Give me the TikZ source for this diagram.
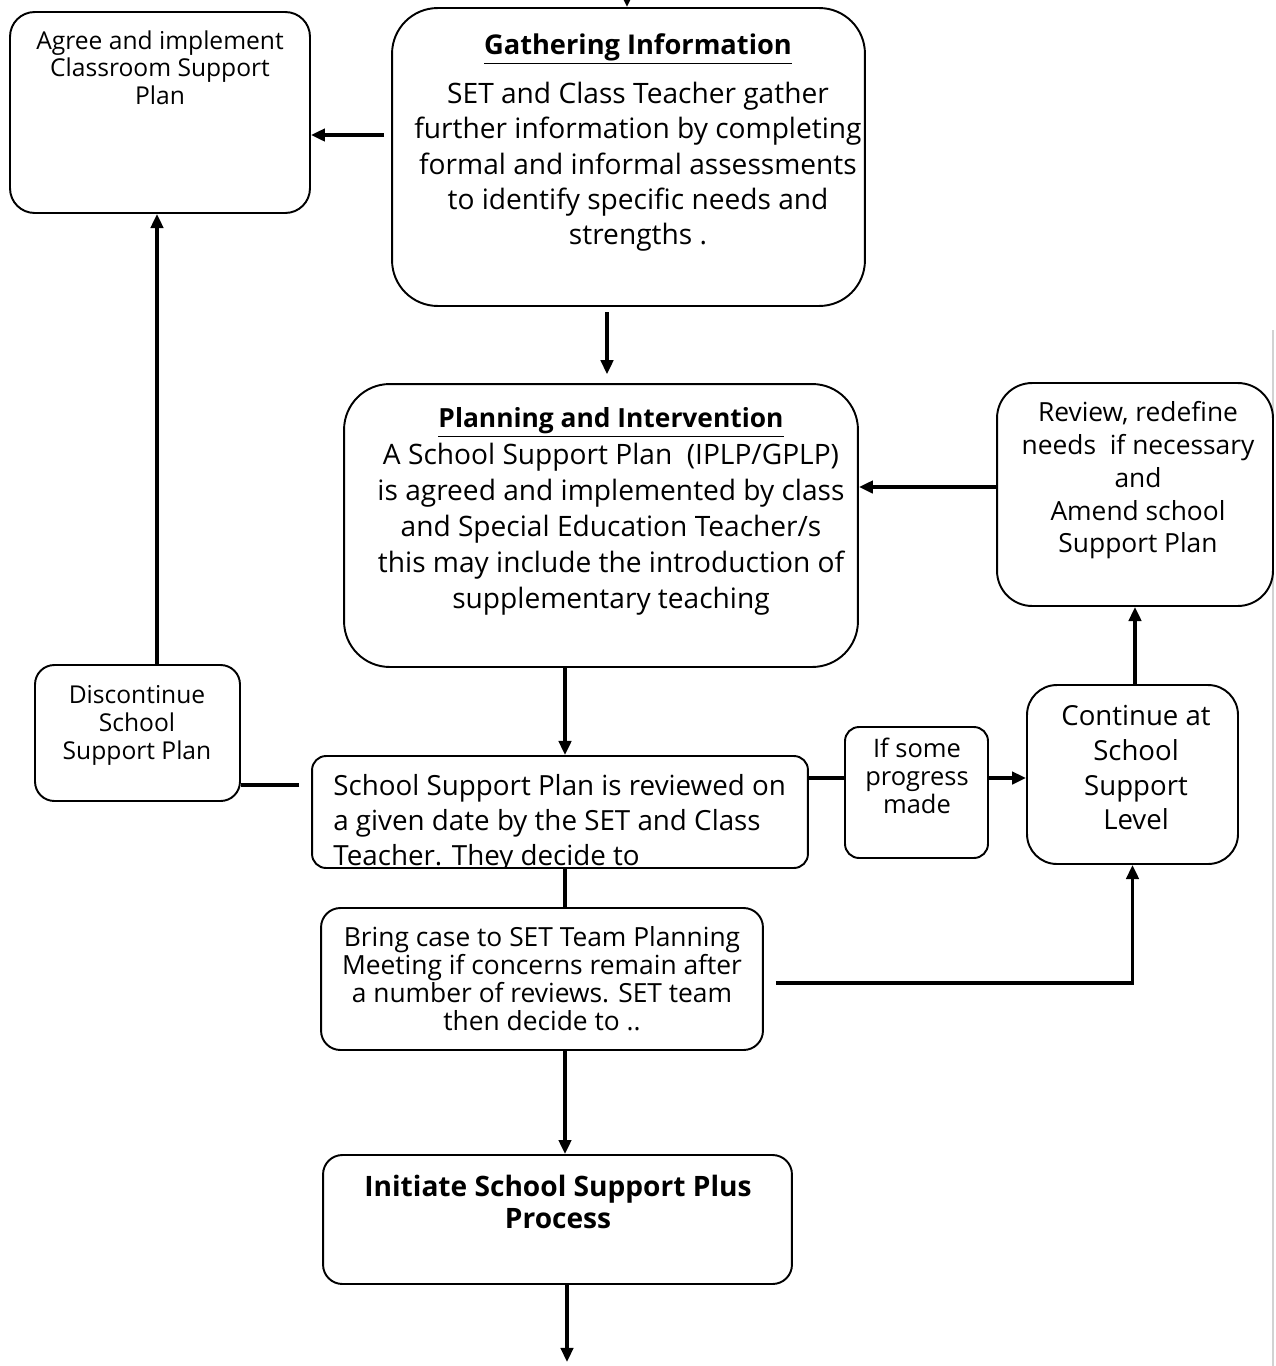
\documentclass[tikz,border=0pt]{standalone}
\usepackage{fontspec}
\setmainfont{Open Sans}
\usetikzlibrary{arrows.meta}
\newcommand{\fsz}[2]{\fontsize{#1}{#2}\selectfont}
\begin{document}
\begin{tikzpicture}[x=0.02cm,y=-0.02cm,
  box/.style={draw, line width=1.1pt, fill=white, inner sep=0pt},
  txt/.style={inner sep=0pt, anchor=north, align=center},
  conn/.style={line width=2.2pt},
  arr/.style={conn, -{Triangle[length=8pt,width=7pt]}}]

% page
\fill[white] (0,0) rectangle (1275,1366);
\useasboundingbox (0,0) rectangle (1275,1366);
\draw[gray!35, line width=0.6pt] (1273,330) -- (1273,1366);

% boxes
\node[box, rounded corners=14pt, minimum width=6cm, minimum height=4.02cm] (agree) at (160,112.5) {};
\node[box, rounded corners=26pt, minimum width=9.46cm, minimum height=5.96cm] (gath) at (628.5,157) {};
\node[box, rounded corners=26pt, minimum width=10.28cm, minimum height=5.66cm] (plan) at (601,525.5) {};
\node[box, rounded corners=20pt, minimum width=5.52cm, minimum height=4.46cm] (rev) at (1135,494.5) {};
\node[box, rounded corners=11pt, minimum width=4.1cm, minimum height=2.72cm] (disc) at (137.5,733) {};
\node[box, rounded corners=8pt, minimum width=9.92cm, minimum height=2.24cm] (srev) at (560,812) {};
\node[box, rounded corners=8pt, minimum width=2.86cm, minimum height=2.62cm] (ifb) at (916.5,792.5) {};
\node[box, rounded corners=17pt, minimum width=4.22cm, minimum height=3.58cm] (cont) at (1132.5,774.5) {};
\node[box, rounded corners=11pt, minimum width=8.84cm, minimum height=2.84cm] (bring) at (542,979) {};
\node[box, rounded corners=11pt, minimum width=9.38cm, minimum height=2.58cm] (init) at (557.5,1219.5) {};

% box texts
\node[txt, font=\fsz{14}{15.9}] (agreet) at (160,30)
  {Agree and implement\\Classroom Support\\Plan};
\node[txt, font=\fsz{16}{20.1}] (gatht) at (638,33)
  {{\fsz{15.5}{16}\textbf{\underline{Gathering Information}}}\\[8pt]
   SET and Class Teacher gather\\further information by completing\\
   formal and informal assessments\\to identify specific needs and\\strengths .};
\node[txt, font=\fsz{16}{20.4}] (plant) at (611,407)
  {{\fsz{15}{16}\textbf{\underline{Planning and Intervention}}}\\[1pt]
   A School Support Plan \ (IPLP/GPLP)\\is agreed and implemented by class\\
   and Special Education Teacher/s\\this may include the introduction of\\
   supplementary teaching};
\node[txt, font=\fsz{15}{18.7}] (revt) at (1138,401)
  {Review, redefine\\needs \ if necessary\\and\\Amend school\\Support Plan};
\node[txt, font=\fsz{14}{15.9}] (disct) at (137,685)
  {Discontinue\\School\\Support Plan};
\begin{scope}
  \clip[rounded corners=8pt] (srev.south west) rectangle (srev.north east);
  \node[inner sep=0pt, anchor=north west, align=left, font=\fsz{15.8}{19.8}] (srevt) at (333,774)
    {School Support Plan is reviewed on\\a given date by the SET and Class\\Teacher. They decide to};
\end{scope}
\node[txt, font=\fsz{14.5}{15.9}] (ift) at (917,738)
  {If some\\progress\\made};
\node[txt, font=\fsz{15.7}{19.8}] (contt) at (1136,705)
  {Continue at\\School\\Support\\Level};
\node[txt, font=\fsz{15}{15.9}] (bringt) at (542,926)
  {Bring case to SET Team Planning\\Meeting if concerns remain after\\
   a number of reviews. SET team\\then decide to ..};
\node[txt, font=\fsz{16}{18.1}\bfseries] (initt) at (558,1175)
  {Initiate School Support Plus\\Process};

% connectors
\coordinate (topin) at (627,0);
\coordinate (bottomout) at (567,1362);
\draw[arr] (topin) -- (gath.north -| topin);
\draw[arr, shorten <=4pt] ([yshift=0.44cm]gath.west) coordinate (g1) -- (agree.east |- g1);
\draw[arr, shorten <=3pt, shorten >=5pt] ([xshift=-0.43cm]gath.south) coordinate (g2) -- (plan.north -| g2);
\draw[arr] ([yshift=0.15cm]rev.west) coordinate (r1) -- (plan.east |- r1);
\draw[arr] ([xshift=-0.72cm]plan.south) coordinate (p1) -- (srev.north -| p1);
\draw[conn] ([yshift=0.54cm, xshift=-0.24cm]srev.west) coordinate (s1) -- (disc.east |- s1);
\draw[arr] ([xshift=0.39cm]disc.north) coordinate (d1) -- (agree.south -| d1);
\draw[conn] ([yshift=0.68cm]srev.east) coordinate (s2) -- (ifb.west |- s2);
\draw[arr] (ifb.east |- s2) -- (cont.west |- s2);
\draw[arr] ([xshift=0.05cm]cont.north) coordinate (c1) -- (rev.south -| c1);
\draw[conn] ([xshift=0.1cm]srev.south) coordinate (s3) -- (bring.north -| s3);
\draw[arr] ([xshift=0.24cm, yshift=-0.08cm]bring.east) coordinate (b1) -- (b1 -| cont.south) -- (cont.south);
\draw[arr] ([xshift=0.46cm]bring.south) coordinate (b2) -- (init.north -| b2);
\draw[arr] ([xshift=0.19cm]init.south) coordinate (i1) -- (bottomout);
\end{tikzpicture}
\end{document}
